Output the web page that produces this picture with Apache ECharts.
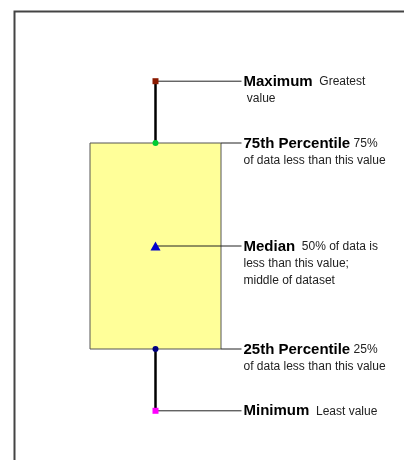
<!DOCTYPE html>
<html>
<head>
<meta charset="utf-8">
<script src="https://cdn.jsdelivr.net/npm/echarts@6/dist/echarts.min.js"></script>
<style>
	html, body { margin: 0; padding: 0; background: #fff; }
	#main { width: 404px; height: 460px; }
</style>
</head>
<body>
<div id="main"></div>
<script>
	// data: one sample, five summary values (min, q1, median, q3, max)
	var categories = ['Sample'];
	var statValues = [10, 25, 50, 75, 90];
	var statTitles = ['Minimum', '25th Percentile', 'Median', '75th Percentile', 'Maximum'];
	var statNotes = ['  Least value', ' 25%', '  50% of data is', ' 75%', '  Greatest'];
	var statMoreLines = [
		[],
		['of data less than this value'],
		['less than this value;', 'middle of dataset'],
		['of data less than this value'],
		[' value']
	];
	var markerSymbols = ['rect', 'circle', 'triangle', 'circle', 'rect'];
	var markerSizes = [6, 6, [10, 9], 6, 6];
	var markerColors = ['#FF00FF', '#000080', '#0000CC', '#00CC33', '#8B1A00'];

	var FONT = '"Liberation Sans", Arial, sans-serif';
	var chart = echarts.init(document.getElementById('main'), null, { renderer: 'canvas' });

	function labelText(i) {
		var s = '{b|' + statTitles[i] + '}{n|' + statNotes[i] + '}';
		statMoreLines[i].forEach(function (l) { s += '\n{n|' + l + '}'; });
		return s;
	}

	var option = {
		animation: false,
		grid: { left: 90, width: 131, top: 40, height: 412 },
		xAxis: { type: 'category', data: categories, show: false },
		yAxis: { type: 'value', min: 0, max: 100, show: false },
		graphic: [{
			type: 'rect',
			left: 12, top: 9,
			shape: { width: 600, height: 600 },
			style: { fill: 'none', stroke: '#444', lineWidth: 2 },
			silent: true
		}],
		series: [
			{
				type: 'custom',
				data: [[0].concat(statValues)],
				renderItem: function (params, api) {
					var x = api.value(0);
					var pts = [1, 2, 3, 4, 5].map(function (d) { return api.coord([x, api.value(d)]); });
					var w = api.size([1, 0])[0];
					var cx = pts[0][0];
					var whisker = { stroke: '#000', lineWidth: 2.5 };
					var children = [
						{ type: 'line', shape: { x1: cx, y1: pts[4][1], x2: cx, y2: pts[3][1] }, style: whisker },
						{ type: 'line', shape: { x1: cx, y1: pts[1][1], x2: cx, y2: pts[0][1] }, style: whisker },
						{ type: 'rect', shape: { x: cx - w / 2, y: pts[3][1], width: w, height: pts[1][1] - pts[3][1] },
							style: { fill: '#FFFF99', stroke: '#555', lineWidth: 1 } }
					];
					pts.forEach(function (p, i) {
						var x1 = (i === 1 || i === 3) ? cx + w / 2 : cx;
						children.push({ type: 'line', shape: { x1: x1, y1: p[1], x2: cx + 86, y2: p[1] },
							style: { stroke: '#222', lineWidth: 1 } });
						children.push({
							type: 'text', x: cx + 88, y: p[1] - 8,
							style: {
								text: labelText(i),
								verticalAlign: 'top',
								fill: '#111',
								rich: {
									b: { fontFamily: FONT, fontSize: 15, fontWeight: 'bold', lineHeight: 16, fill: '#000' },
									n: { fontFamily: FONT, fontSize: 12, lineHeight: 17, fill: '#222' }
								}
							}
						});
					});
					return { type: 'group', children: children };
				},
				z: 1
			},
			{
				type: 'scatter',
				z: 3,
				data: statValues.map(function (v, i) {
					return {
						value: [0, v],
						symbol: markerSymbols[i],
						symbolSize: markerSizes[i],
						itemStyle: { color: markerColors[i], opacity: 1 }
					};
				})
			}
		]
	};
	chart.setOption(option);
</script>
</body>
</html>
